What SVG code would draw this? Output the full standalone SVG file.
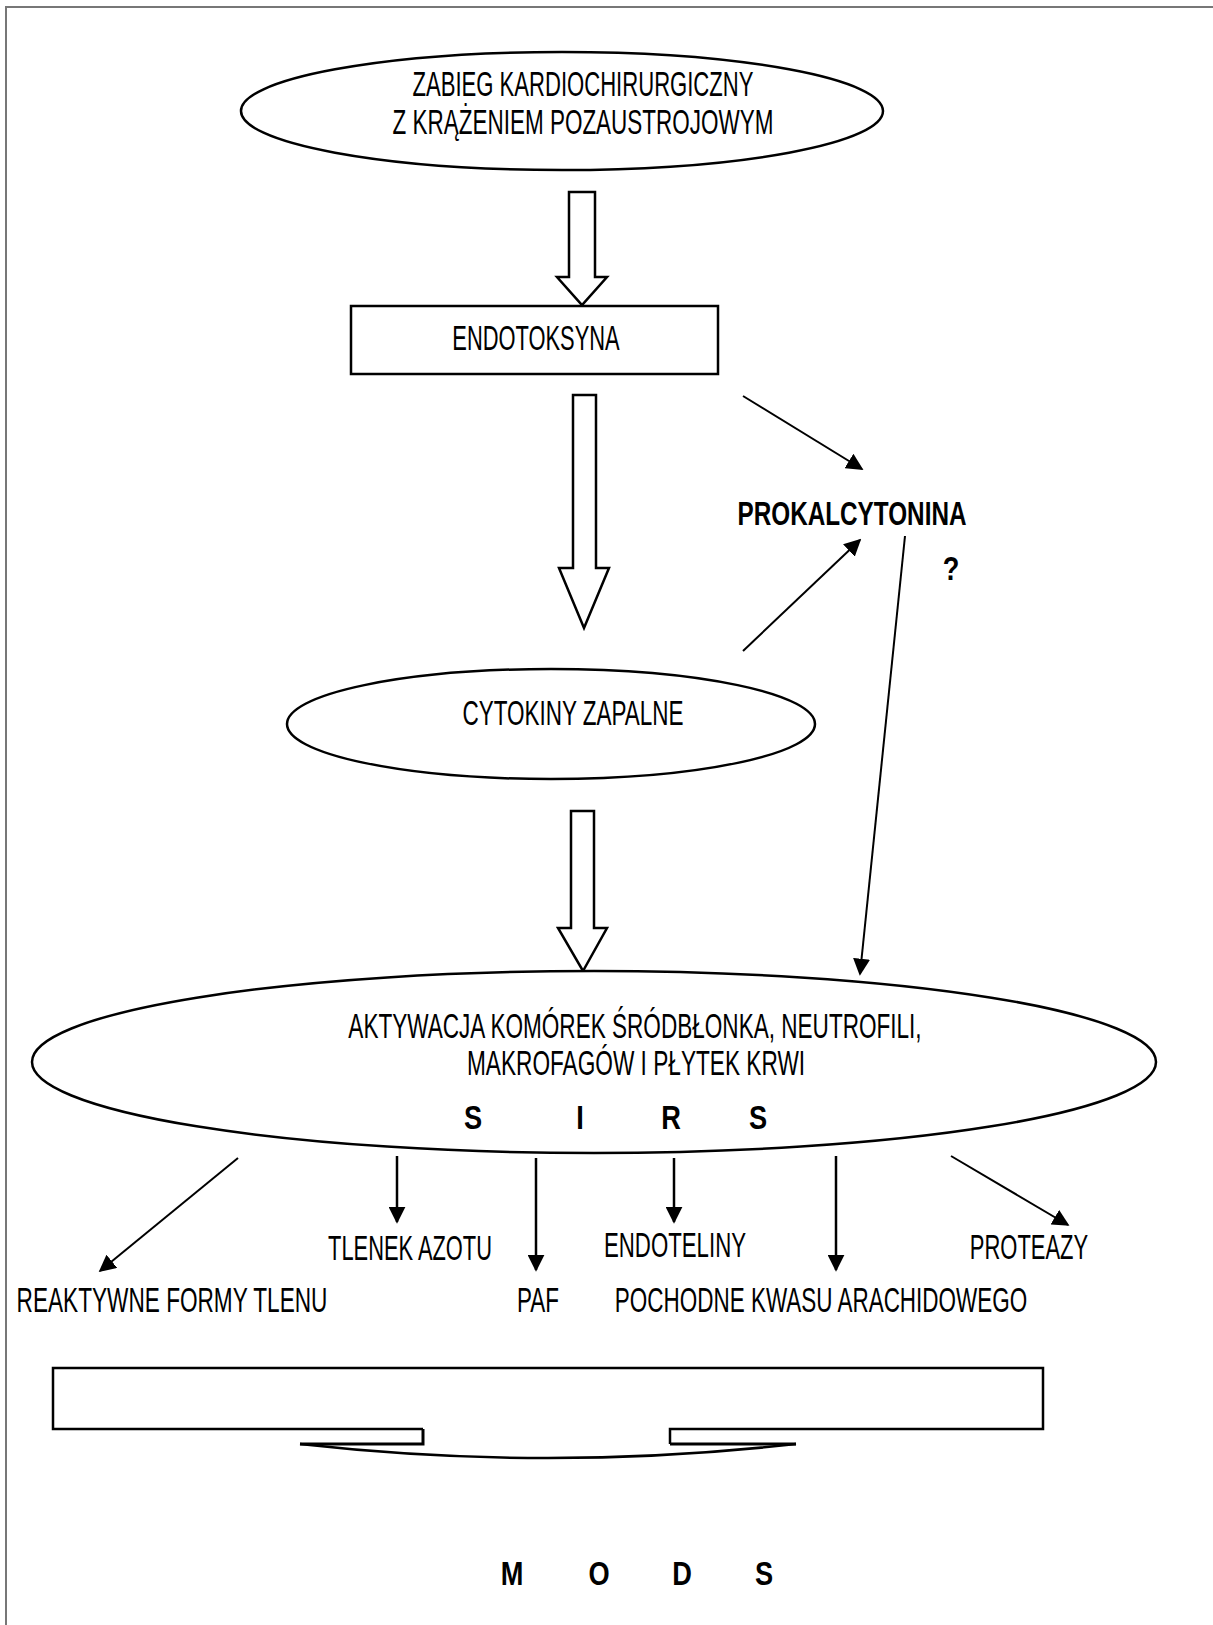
<svg xmlns="http://www.w3.org/2000/svg" width="1213" height="1625" viewBox="0 0 1213 1625">
<style>
.shape{fill:#fff;stroke:#000;stroke-width:2.5}
.lbl{font-family:"Liberation Sans Narrow","Liberation Sans",Arial,sans-serif;font-size:35px;fill:#000}
.bold{font-family:"Liberation Sans Narrow","Liberation Sans",Arial,sans-serif;font-size:34px;font-weight:bold;fill:#000}
.conn{stroke:#000;stroke-width:2.5;fill:none}
.hollow{fill:#fff;stroke:#000;stroke-width:2.5;stroke-linejoin:miter}
</style>
<defs>
<marker id="ahb" viewBox="0 0 10 10" refX="9" refY="5" markerWidth="17" markerHeight="17" orient="auto" markerUnits="userSpaceOnUse">
<path d="M0,0 L10,5 L0,10 z" fill="#000"/>
</marker>
</defs>
<rect width="1213" height="1625" fill="#fff"/>
<path d="M6,1625 L6,7 L1213,7" fill="none" stroke="#777" stroke-width="2"/>

<g id="connectors">
<path class="hollow" d="M569,192 L595,192 L595,277 L607,277 L582,305 L557,277 L569,277 Z"/>
<path class="hollow" d="M573,395 L596,395 L596,568 L609,568 L584,628 L559,568 L573,568 Z"/>
<path class="hollow" d="M571,811 L594,811 L594,928 L607,928 L583,971 L558,928 L571,928 Z"/>
<line class="conn" x1="743" y1="396" x2="862" y2="469" marker-end="url(#ahb)" style="stroke-width:2"/>
<line class="conn" x1="743" y1="651" x2="860" y2="540" marker-end="url(#ahb)" style="stroke-width:2"/>
<line class="conn" x1="905" y1="536" x2="860" y2="974" marker-end="url(#ahb)" style="stroke-width:2"/>
<line class="conn" x1="238" y1="1158" x2="100" y2="1271" marker-end="url(#ahb)" style="stroke-width:2"/>
<line class="conn" x1="397" y1="1156" x2="397" y2="1222" marker-end="url(#ahb)"/>
<line class="conn" x1="536" y1="1158" x2="536" y2="1270" marker-end="url(#ahb)"/>
<line class="conn" x1="674" y1="1158" x2="674" y2="1222" marker-end="url(#ahb)"/>
<line class="conn" x1="836" y1="1156" x2="836" y2="1270" marker-end="url(#ahb)"/>
<line class="conn" x1="951" y1="1156" x2="1068" y2="1225" marker-end="url(#ahb)" style="stroke-width:2"/>
</g>

<g id="node-zabieg">
<ellipse class="shape" cx="562" cy="111" rx="321" ry="59"/>
<text class="lbl" transform="translate(583,96) scale(0.7,1)" text-anchor="middle" textLength="487" lengthAdjust="spacingAndGlyphs">ZABIEG KARDIOCHIRURGICZNY</text>
<text class="lbl" transform="translate(583,134) scale(0.7,1)" text-anchor="middle" textLength="544" lengthAdjust="spacingAndGlyphs">Z KRĄŻENIEM POZAUSTROJOWYM</text>
</g>

<g id="node-endotoksyna">
<rect class="shape" x="351" y="306" width="367" height="68"/>
<text class="lbl" transform="translate(536,350) scale(0.7,1)" text-anchor="middle" textLength="239" lengthAdjust="spacingAndGlyphs">ENDOTOKSYNA</text>
</g>

<g id="node-prokalcytonina">
<text class="bold" transform="translate(852,525) scale(0.7,1)" text-anchor="middle" textLength="327" lengthAdjust="spacingAndGlyphs">PROKALCYTONINA</text>
<text class="bold" transform="translate(951,580) scale(0.8,1)" text-anchor="middle">?</text>
</g>

<g id="node-cytokiny">
<ellipse class="shape" cx="551" cy="724" rx="264" ry="55"/>
<text class="lbl" transform="translate(573,725) scale(0.7,1)" text-anchor="middle" textLength="316" lengthAdjust="spacingAndGlyphs">CYTOKINY ZAPALNE</text>
</g>

<g id="node-aktywacja">
<ellipse class="shape" cx="594" cy="1062" rx="562" ry="91"/>
<text class="lbl" transform="translate(635,1038) scale(0.7,1)" text-anchor="middle" textLength="819" lengthAdjust="spacingAndGlyphs">AKTYWACJA KOMÓREK ŚRÓDBŁONKA, NEUTROFILI,</text>
<text class="lbl" transform="translate(636,1075) scale(0.7,1)" text-anchor="middle" textLength="483" lengthAdjust="spacingAndGlyphs">MAKROFAGÓW I PŁYTEK KRWI</text>
<text class="bold" transform="translate(473,1129) scale(0.8,1)" text-anchor="middle">S</text>
<text class="bold" transform="translate(580,1129) scale(0.8,1)" text-anchor="middle">I</text>
<text class="bold" transform="translate(671,1129) scale(0.8,1)" text-anchor="middle">R</text>
<text class="bold" transform="translate(758,1129) scale(0.8,1)" text-anchor="middle">S</text>
</g>

<g id="node-reaktywne"><text class="lbl" transform="translate(172,1312) scale(0.7,1)" text-anchor="middle" textLength="444" lengthAdjust="spacingAndGlyphs">REAKTYWNE FORMY TLENU</text></g>
<g id="node-tlenek"><text class="lbl" transform="translate(410,1260) scale(0.7,1)" text-anchor="middle" textLength="234" lengthAdjust="spacingAndGlyphs">TLENEK AZOTU</text></g>
<g id="node-paf"><text class="lbl" transform="translate(538,1312) scale(0.7,1)" text-anchor="middle" textLength="60" lengthAdjust="spacingAndGlyphs">PAF</text></g>
<g id="node-endoteliny"><text class="lbl" transform="translate(675,1257) scale(0.7,1)" text-anchor="middle" textLength="203" lengthAdjust="spacingAndGlyphs">ENDOTELINY</text></g>
<g id="node-pochodne"><text class="lbl" transform="translate(821,1312) scale(0.7,1)" text-anchor="middle" textLength="589" lengthAdjust="spacingAndGlyphs">POCHODNE KWASU ARACHIDOWEGO</text></g>
<g id="node-proteazy"><text class="lbl" transform="translate(1029,1259) scale(0.7,1)" text-anchor="middle" textLength="169" lengthAdjust="spacingAndGlyphs">PROTEAZY</text></g>

<g id="node-mods-arrow">
<path d="M423,1429 L53,1429 L53,1368 L1043,1368 L1043,1429 L670,1429 L670,1444" fill="none" stroke="#000" stroke-width="2.5"/>
<path d="M423,1429 L423,1444 L300,1444" fill="none" stroke="#000" stroke-width="3"/>
<path d="M670,1444 L796,1444" fill="none" stroke="#000" stroke-width="3"/>
<path d="M300,1444 Q548,1472 796,1444" fill="none" stroke="#000" stroke-width="2.5"/>
</g>

<g id="node-mods">
<text class="bold" transform="translate(512,1585) scale(0.8,1)" text-anchor="middle">M</text>
<text class="bold" transform="translate(599,1585) scale(0.8,1)" text-anchor="middle">O</text>
<text class="bold" transform="translate(682,1585) scale(0.8,1)" text-anchor="middle">D</text>
<text class="bold" transform="translate(764,1585) scale(0.8,1)" text-anchor="middle">S</text>
</g>
</svg>
